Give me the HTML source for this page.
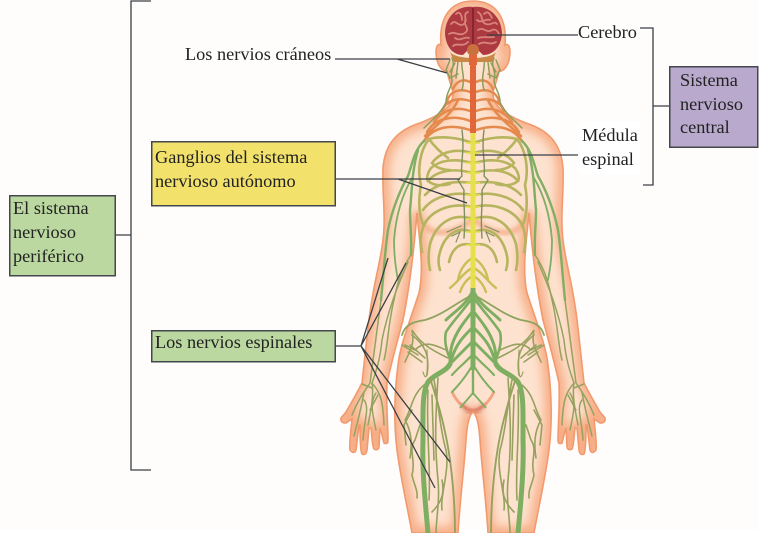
<!DOCTYPE html>
<html lang="es"><head><meta charset="utf-8"><title>Sistema nervioso</title>
<style>html,body{margin:0;padding:0;background:#fff}svg{display:block}text{font-family:"Liberation Serif",serif;font-size:18.3px;fill:#222}</style></head>
<body>
<svg width="771" height="533" viewBox="0 0 771 533" xmlns="http://www.w3.org/2000/svg">
<defs>
<filter id="b4" x="-20%" y="-20%" width="140%" height="140%"><feGaussianBlur stdDeviation="5"/></filter>
<filter id="b2" x="-20%" y="-20%" width="140%" height="140%"><feGaussianBlur stdDeviation="2"/></filter>
<filter id="b1"><feGaussianBlur stdDeviation=".35"/></filter>
<clipPath id="bc"><path id="bp" d="M473 1C447 1 439 22 441 45C436 42 435 52 437 60C439 68 444 72 447 71C449 82 453 88 453 94C452 108 440 115 420 123C398 130 385 143 383 168C382 195 386 215 383 240C380 265 373 285 369 320C366 345 364 365 362 383C356 395 350 405 346 412L341 418Q340 423 346 423L352 419C351 430 349 445 350 450Q354 455 356 450L359 425L360 425C360 435 360 450 362 454Q366 456 367 450L369 428L371 428C372 435 372 445 374 449Q378 451 379 447L380 428C382 433 383 440 384 443Q388 445 388 440C388 425 386 405 387 383C392 360 399 335 403 320C410 285 414 250 417 213C420 245 424 270 419 293C411 318 400 345 398 365C394 395 394 425 397 450C401 480 408 510 412 533H458C460 500 464 470 466 440C467 425 469 415 473 412C477 415 479 425 480 440C482 470 486 500 488 533H534C538 510 545 480 549 450C552 425 552 395 548 365C546 345 535 318 527 293C522 270 526 245 529 213C532 250 536 285 543 320C547 335 554 360 559 383C560 405 558 425 558 440Q558 445 562 443C563 440 564 433 566 428L567 447Q568 451 572 449C574 445 574 435 575 428L577 428L579 450Q580 456 584 454C586 450 586 435 586 425L587 425L590 450Q592 455 596 450C597 445 595 430 594 419L600 423Q606 423 605 418L600 412C596 405 590 395 584 383C582 365 580 345 577 320C573 285 566 265 563 240C560 215 564 195 563 168C561 143 548 130 526 123C506 115 494 108 493 94C493 88 497 82 499 71C502 72 507 68 509 60C511 52 510 42 505 45C507 22 499 1 473 1Z"/></clipPath>
<g id="half" fill="none" stroke-linecap="round" filter="url(#b1)">
 <!-- neck / orange ribs -->
 <g stroke="#e58a4e" stroke-width="2.5">
  <path d="M470 82C462 78 456 82 453 89"/><path d="M470 92C460 88 450 91 447 101"/><path d="M470 101C458 97 446 100 442 111"/><path d="M470 111C456 106 442 110 434 122"/><path d="M470 121C455 115 436 117 427 132"/><path d="M470 130C452 124 434 126 424 141"/>
  <path d="M458 100C452 114 438 124 425 136"/>
 </g>
 <g stroke="#8e9d5a" stroke-width="1.5">
  <path d="M452 58C456 66 449 72 452 80C452 88 446 92 446 102C442 112 432 120 424 128"/>
  <path d="M462 58C460 68 466 76 462 90"/>
  <path d="M450 60L446 70L450 78L458 74"/><path d="M455 63L450 72"/><path d="M458 62L456 78"/>
 </g>
 <!-- yellow ribs -->
 <g stroke="#b6b45e" stroke-width="2.6">
  <path d="M472 143C458 137 440 136 429 139C434 146 440 152 448 158"/>
  <path d="M472 153C455 148 440 152 432 163C436 168 444 170 450 170"/>
  <path d="M472 163C455 158 440 160 431 168C428 172 426 178 428 181"/>
  <path d="M472 173C455 168 437 170 428 181C434 186 442 186 450 184"/>
  <path d="M472 183C453 180 435 184 425 195"/>
  <path d="M472 195C453 191 432 197 423 210"/>
  <path d="M472 207C452 202 430 210 423 227C420 236 420 244 422 252"/>
  <path d="M472 219C452 212 436 224 430 244C428 254 428 262 430 270"/>
  <path d="M472 232C458 226 445 234 440 252C438 258 438 264 440 270"/>
  <path d="M472 245C460 242 452 248 449 262"/>
  <path d="M429 139C420 150 417 170 421 185C418 200 419 218 424 226"/>
 </g>
 <g stroke="#c7bf58" stroke-width="2.4">
  <path d="M472 258C466 262 460 268 458 280"/><path d="M472 268C464 272 458 282 450 288"/><path d="M472 276C466 280 462 286 460 292"/>
 </g>
 <!-- sympathetic chain -->
 <path d="M462 130C465 150 460 165 462 176L458 180L464 190C463 205 466 215 464 238" stroke="#7f9060" stroke-width="1.4"/>
 <path d="M447 232L456 228L461 226M452 236L460 232L456 242" stroke="#7f9060" stroke-width="1.1"/>
 <!-- arm -->
 <g stroke="#80ae63" stroke-width="2.4">
  <path d="M424 141C414 150 412 165 408 176C400 190 392 210 388 230C385 250 384 270 381 300"/>
  <path d="M418 150C412 170 412 190 410 210C410 225 412 240 411 255"/>
  <path d="M412 178C402 195 396 215 394 240C394 256 396 270 398 280" stroke-width="1.8"/>
 </g>
 <g stroke="#96a25f" stroke-width="1.5">
  <path d="M381 300C377 330 373 360 370 383C364 392 358 400 352 415"/>
  <path d="M408 262C398 285 388 310 382 340C380 360 376 372 372 383C374 395 371 410 368 425"/>
  <path d="M411 255C402 268 398 280 394 300C388 325 388 345 384 360"/>
  <path d="M372 383C380 392 383 400 384 425"/>
  <path d="M364 392C362 405 358 420 354 436"/>
  <path d="M372 388L362 384M376 393C370 402 372 412 376 430"/>
  <path d="M364 400C370 408 364 420 363 440"/>
  <path d="M378 395L370 410"/>
 </g>
 <!-- abdomen -->
 <g stroke="#7eae62" stroke-width="3">
  <path d="M472 292C466 305 454 312 446 320"/>
  <path d="M472 298C464 310 452 322 446 332C444 340 446 352 452 362" stroke-width="2.6"/>
  <path d="M472 312C464 322 456 332 452 345C450 352 450 358 450 362"/>
  <path d="M472 328C464 336 456 344 452 358"/>
  <path d="M472 342C464 350 458 356 452 362"/>
  <path d="M472 355C466 362 458 368 452 375" stroke-width="2.2"/>
  <path d="M472 366C466 376 458 386 452 392" stroke-width="2"/>
 </g>
 <path d="M450 364C446 372 434 374 428 382C422 392 423 412 423 440C422 470 425 500 428 533" stroke="#7eae62" stroke-width="5"/>
 <path d="M470 296C452 306 440 316 425 320C412 322 405 325 402 335" stroke="#8ea35d" stroke-width="1.8"/>
 <g stroke="#97a15f" stroke-width="1.6">
  <path d="M448 358C436 352 422 346 412 330C415 345 410 350 405 362M446 350C435 345 425 340 415 350L405 345"/>
  <path d="M412 335C425 345 430 355 427 375"/>
  <path d="M410 345L425 358M402 345L418 355M408 352L422 362"/>
  <path d="M427 350C428 370 427 385 423 372" stroke-width="1.2"/>
  <path d="M430 378C438 402 446 430 450 460C454 490 455 510 455 533" stroke-width="1.9"/>
  <path d="M434 380C438 400 440 430 446 450C450 470 440 495 442 510"/>
  <path d="M438 378C436 410 434 440 438 480C440 500 436 520 436 533"/>
  <path d="M428 390C426 430 431 470 429 500M432 395L434 460"/>
  <path d="M424 385C412 395 412 408 405 420C412 432 412 445 410 458"/>
  <path d="M420 425L415 440C408 450 416 460 412 475C414 485 418 490 417 498"/>
  <path d="M412 410L404 425L406 445"/>
  <path d="M442 480C444 490 444 500 432 512"/>
 </g>
</g>
</defs>
<rect width="771" height="533" fill="#fff"/>
<rect width="758" height="530" fill="#fefdfc"/>
<!-- body -->
<use href="#bp" fill="#fde2cf"/>
<g clip-path="url(#bc)">
 <use href="#bp" fill="none" stroke="#f7ad85" stroke-width="13" filter="url(#b4)"/>
 <path d="M418 212C420 228 432 234 447 232C458 230 468 224 473 218C478 224 488 230 499 232C514 234 526 228 528 212" fill="none" stroke="#f5b08c" stroke-width="5" filter="url(#b2)"/>
 <path d="M452 392C458 404 466 410 473 410C480 410 488 404 494 392" fill="none" stroke="#f2a583" stroke-width="3" filter="url(#b1)"/>
 <path d="M462 404C466 410 470 412 473 412C476 412 480 410 484 404" fill="none" stroke="#d06a57" stroke-width="3" filter="url(#b2)"/>
</g>
<use href="#bp" fill="none" stroke="#f19a6e" stroke-width="1.6"/>
<!-- nerves -->
<use href="#half"/>
<use href="#half" transform="matrix(-1 0 0 1 946 0)"/>
<path d="M473 55V133" stroke="#e1673a" stroke-width="6"/>
<path d="M473 133V288" stroke="#e6e04a" stroke-width="5"/>
<path d="M473 288V370" stroke="#7eae62" stroke-width="5"/>
<path d="M473 370V395" stroke="#7eae62" stroke-width="2.4"/>
<path d="M473 393L460 408M473 393L486 408" stroke="#7eae62" stroke-width="1.8" fill="none"/>
<g stroke="#e6e04a" stroke-width="1.6"><path d="M466 143H480M466 153H480M466 163H480M466 173H480M466 183H480M466 195H480M466 207H480M466 219H480M466 232H480M466 245H480"/></g>
<!-- brain -->
<path d="M450 52C456 60 490 60 496 52L492 62H454Z" fill="#c98845"/>
<path d="M473 7C456 5 445 18 445 34C446 46 452 55 463 55L473 45L483 55C494 55 501 46 502 34C502 18 490 5 473 7Z" fill="#ad3a40"/>
<g fill="none" stroke="#d8847a" stroke-width="1.8" stroke-linecap="round">
 <path d="M451 24C456 18 458 28 464 24C468 20 462 14 468 12"/><path d="M449 34C455 30 460 38 466 32C470 28 462 24 466 20"/>
 <path d="M453 46C458 42 462 48 468 42"/><path d="M456 14C460 10 462 16 462 20"/><path d="M455 38C460 42 464 36 469 38"/>
 <path d="M478 12C484 16 480 22 486 24C492 26 494 20 497 24"/><path d="M478 30C484 26 486 34 492 30C496 28 498 32 499 34"/>
 <path d="M479 44C485 40 490 46 496 42"/><path d="M484 14C488 10 490 14 492 18"/><path d="M477 20C481 24 486 18 490 20"/><path d="M478 38C483 36 488 38 494 37"/>
</g>
<path d="M473 8V44" stroke="#6e1a24" stroke-width="1.2"/>
<circle cx="473" cy="50" r="6" fill="#c9703f"/>
<rect x="469" y="55" width="8" height="10" fill="#e1673a"/>
<!-- connectors -->
<g fill="none" stroke="#3b3f44" stroke-width="1.3">
 <path d="M151 1H131V470H151M115 235H131"/>
 <path d="M640 28H653V185H643M653 106H669"/>
 <path d="M487 35H578M475 155H578"/>
 <path d="M335 59H450M397 59L447 73"/>
 <path d="M335 179H460M398 179L467 203"/>
 <path d="M335 346H361L388 258M361 346L406 263M361 346L450 462M361 346L435 488"/>
</g>
<!-- boxes -->
<g stroke="#44484c" stroke-width="1.5">
 <rect x="9.75" y="195.75" width="105.5" height="80" fill="#bbd8a0"/>
 <rect x="151.75" y="141.75" width="183.5" height="64" fill="#f2e16b"/>
 <rect x="151.75" y="330.75" width="183.5" height="31" fill="#bbd8a0"/>
 <rect x="669.75" y="66.75" width="88" height="80.5" fill="#b9a9cd"/>
</g>
<rect x="580" y="122" width="60" height="52" fill="#fff"/>
<text x="13" y="214">El sistema</text>
<text x="13" y="238">nervioso</text>
<text x="13" y="262">periférico</text>
<text x="155" y="163">Ganglios del sistema</text>
<text x="155" y="187">nervioso autónomo</text>
<text x="155" y="348">Los nervios espinales</text>
<text x="185" y="60">Los nervios cráneos</text>
<text x="578" y="38">Cerebro</text>
<text x="582" y="141">Médula</text>
<text x="582" y="165">espinal</text>
<text x="680" y="86">Sistema</text>
<text x="680" y="110">nervioso</text>
<text x="680" y="133">central</text>
</svg>
</body></html>
